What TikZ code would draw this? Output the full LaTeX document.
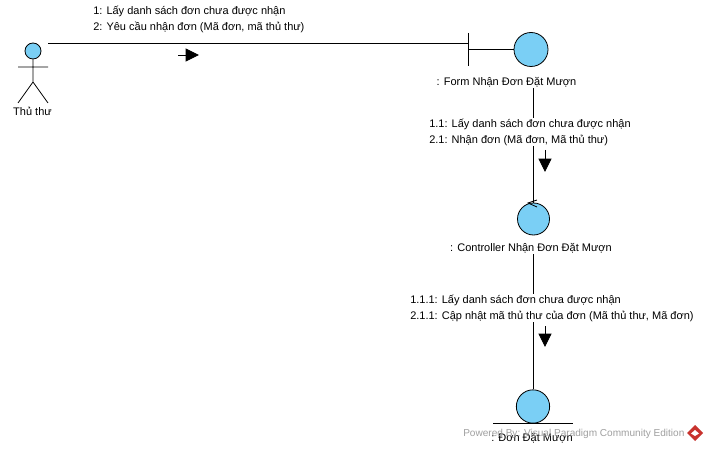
\documentclass[tikz,border=0pt]{standalone}
\usepackage{fontspec}
\setmainfont{Liberation Sans}
\usetikzlibrary{arrows.meta}
\definecolor{ballfill}{RGB}{122,207,245}
\definecolor{markgrey}{RGB}{160,160,160}
\definecolor{markred}{RGB}{200,50,45}
\tikzset{
  ball/.style={circle,draw=black,fill=ballfill,inner sep=0pt,line width=0.6pt},
  txt/.style={font=\fontsize{8.25pt}{12.3pt}\selectfont,inner sep=0pt,text=black},
  msg/.style={txt,align=left,anchor=west,fill=white,inner ysep=0.5pt,inner xsep=0pt},
  lnk/.style={line width=0.6pt,draw=black},
  dir/.style={line width=0.6pt,-{Triangle[length=10pt,width=9.75pt]}},
}
\begin{document}
\begin{tikzpicture}[x=0.75pt,y=-0.75pt]
\useasboundingbox (0,0) rectangle (707,449);
\fill[white] (0,0) rectangle (707,449);
% actor
\node[ball,minimum size=12pt] (head) at (33,51) {};
\coordinate (hip) at (33,82);
\coordinate (armL) at (18,67);
\coordinate (armR) at (48,67);
\coordinate (legL) at (18,103);
\coordinate (legR) at (48,103);
\draw[lnk] (head) -- (hip) (armL) -- (armR) (legL) -- (hip) -- (legR);
\node[txt] (actorlabel) at (32.5,111) {Thủ thư};
% boundary
\node[ball,minimum size=25.5pt] (form) at (531,49.5) {};
\coordinate (barTop) at (468,33);
\coordinate (barBot) at (468,66);
\coordinate (barMid) at (468,49.5);
\draw[lnk] (barTop) -- (barBot) (barMid) -- (form);
\node[txt] (formlabel) at (506.5,82) {: Form Nhận Đơn Đặt Mượn};
% control
\node[ball,minimum size=24pt] (ctrl) at (533.5,219) {};
\coordinate (tickA) at (537,200);
\coordinate (tickB) at (528,203);
\coordinate (tickC) at (537,207);
\draw[lnk] (tickA) -- (tickB) -- (tickC);
\node[txt] (ctrllabel) at (531,248) {: Controller Nhận Đơn Đặt Mượn};
% entity
\node[ball,minimum size=25pt] (ent) at (533,406.5) {};
\coordinate (entL) at (493,423.5);
\coordinate (entR) at (573,423.5);
\draw[lnk] (entL) -- (entR);
\node[txt] (entlabel) at (532,438) {: Đơn Đặt Mượn};
% links
\coordinate (actorEnd) at (48,43);
\coordinate (barLink) at (468,43);
\coordinate (formOut) at (533,88);
\coordinate (ctrlIn) at (533,203);
\coordinate (ctrlOut) at (533,254);
\draw[lnk] (actorEnd) -- (barLink);
\draw[lnk] (formOut) -- (ctrlIn);
\draw[lnk] (ctrlOut) -- (ent.north -| ctrlOut);
% direction arrows
\coordinate (a1s) at (178,55); \coordinate (a1e) at (199,55);
\coordinate (a2s) at (545,150); \coordinate (a2e) at (545,172);
\coordinate (a3s) at (545,326); \coordinate (a3e) at (545,347);
\draw[dir] (a1s) -- (a1e);
\draw[dir] (a2s) -- (a2e);
\draw[dir] (a3s) -- (a3e);
% messages
\node[msg] (m1) at (93,19.3) {1: Lấy danh sách đơn chưa được nhận\\2: Yêu cầu nhận đơn (Mã đơn, mã thủ thư)};
\node[msg] (m2) at (429,132.2) {1.1: Lấy danh sách đơn chưa được nhận\\2.1: Nhận đơn (Mã đơn, Mã thủ thư)};
\node[msg] (m3) at (410,308.2) {1.1.1: Lấy danh sách đơn chưa được nhận\\2.1.1: Cập nhật mã thủ thư của đơn (Mã thủ thư, Mã đơn)};
% watermark
\node[txt,font=\fontsize{7.55pt}{10pt}\selectfont,text=markgrey,anchor=west] (wm) at (463,434) {Powered By: Visual Paradigm Community Edition};
\fill[markred] (695,425) -- (703,433) -- (695,441) -- (687,433) -- cycle;
\fill[white] (695,430) -- (699,433.5) -- (695,436) -- (691,433.5) -- cycle;
\end{tikzpicture}
\end{document}
